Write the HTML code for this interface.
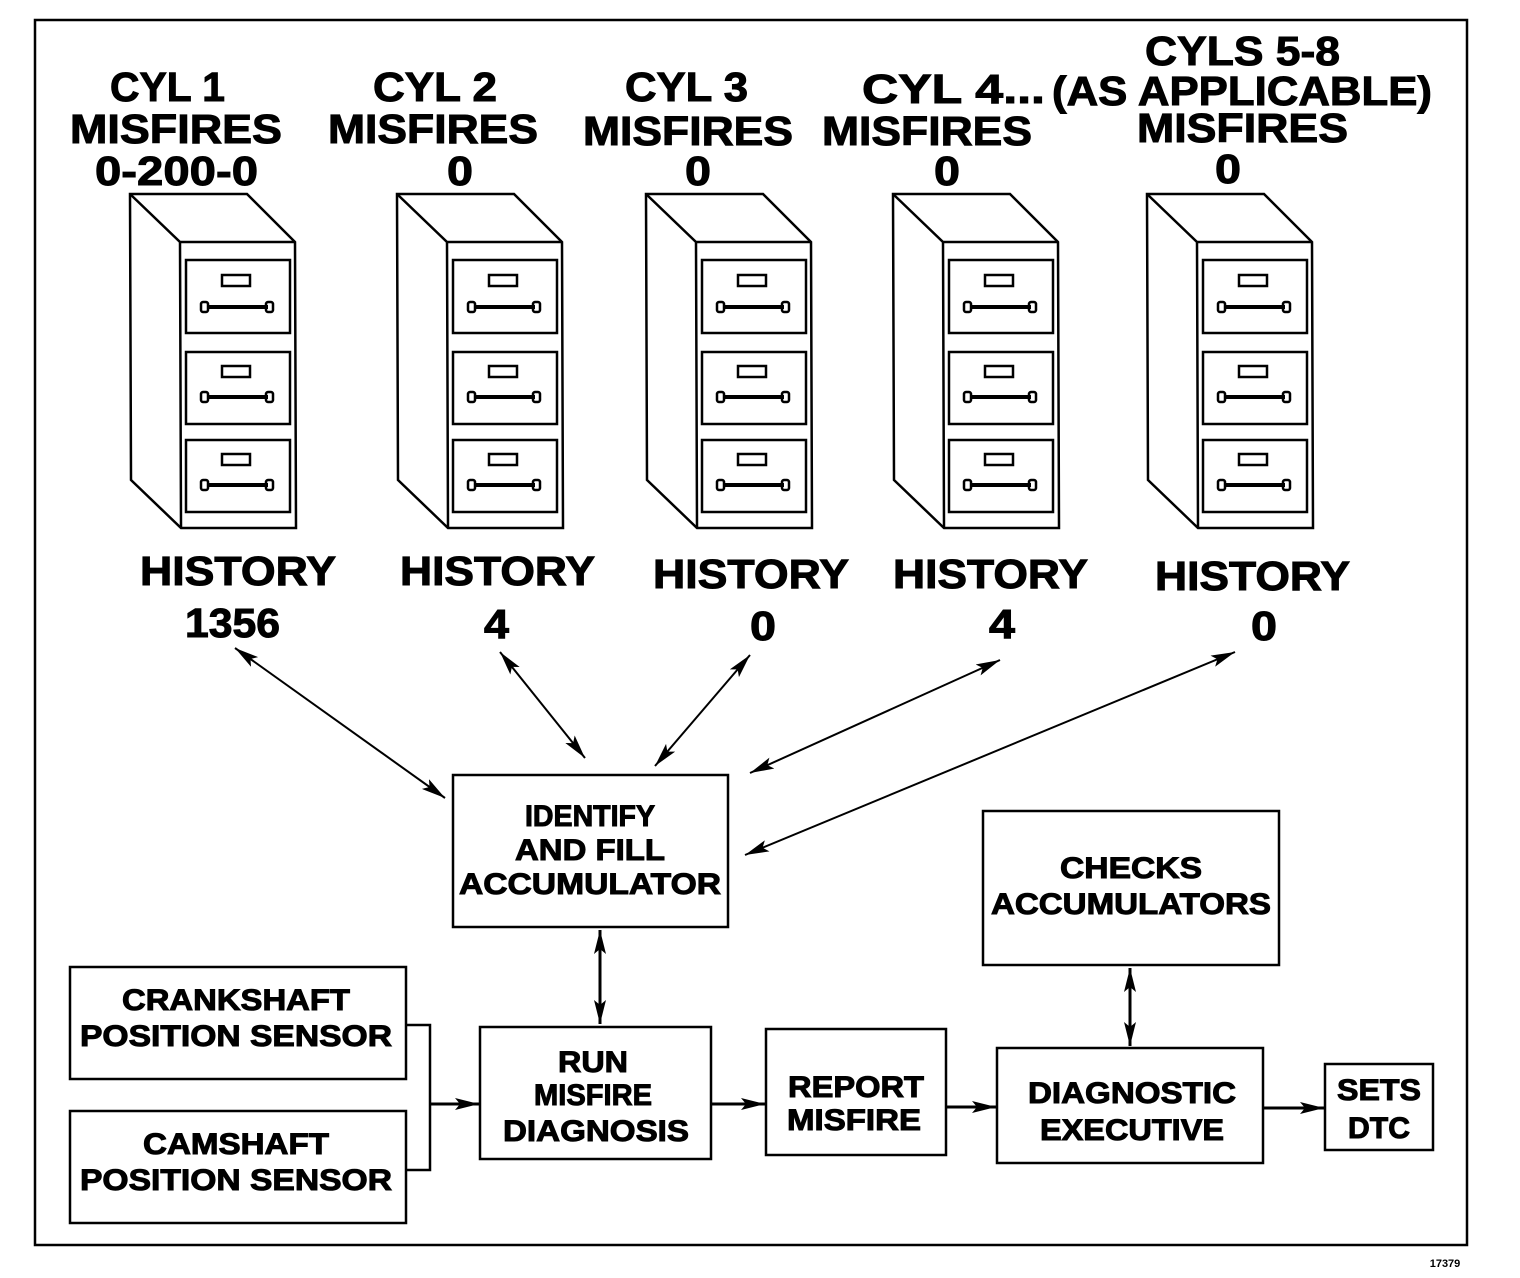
<!DOCTYPE html>
<html><head><style>body{margin:0;background:#fff}svg{display:block}text{font-family:"Liberation Sans",sans-serif;font-weight:bold;fill:#000;stroke:#000;stroke-width:1}</style></head>
<body>
<svg width="1520" height="1278" viewBox="0 0 1520 1278" xmlns="http://www.w3.org/2000/svg">
<defs>
<marker id="a" viewBox="0 0 24 12" refX="24" refY="6" markerWidth="24" markerHeight="12" markerUnits="userSpaceOnUse" orient="auto-start-reverse"><path d="M0,0 L24,6 L0,12 L5,6 Z" fill="#000"/></marker>
<g id="cab" fill="none" stroke="#000" stroke-width="2.5">
<path d="M130,194 L247,194 L295,242 L296,528 L181,528 L131,480 Z"/>
<path d="M130,194 L180,242 L295,242 M180,242 L181,528"/>
<rect x="186" y="260" width="104" height="73"/>
<rect x="186" y="352" width="104" height="72"/>
<rect x="186" y="440" width="104" height="72"/>
<rect x="222" y="275" width="28" height="11"/>
<rect x="222" y="366" width="28" height="11"/>
<rect x="222" y="454" width="28" height="11"/>
<path d="M207,307 H268 M207,397 H268 M207,485 H268" stroke-width="4"/>
<rect x="201" y="302" width="7" height="10" rx="2"/><rect x="266" y="302" width="7" height="10" rx="2"/>
<rect x="201" y="392" width="7" height="10" rx="2"/><rect x="266" y="392" width="7" height="10" rx="2"/>
<rect x="201" y="480" width="7" height="10" rx="2"/><rect x="266" y="480" width="7" height="10" rx="2"/>
</g>
</defs>
<rect x="35" y="20" width="1432" height="1225" fill="none" stroke="#000" stroke-width="2.5"/>
<use href="#cab"/>
<use href="#cab" x="267"/>
<use href="#cab" x="516"/>
<use href="#cab" x="763"/>
<use href="#cab" x="1017"/>
<g font-size="41">
<text x="110" y="101" textLength="115" lengthAdjust="spacingAndGlyphs">CYL 1</text>
<text x="70" y="143" textLength="212" lengthAdjust="spacingAndGlyphs">MISFIRES</text>
<text x="95" y="185" textLength="163" lengthAdjust="spacingAndGlyphs">0-200-0</text>
<text x="373" y="101" textLength="124" lengthAdjust="spacingAndGlyphs">CYL 2</text>
<text x="328" y="143" textLength="210" lengthAdjust="spacingAndGlyphs">MISFIRES</text>
<text x="447" y="185" textLength="26" lengthAdjust="spacingAndGlyphs">0</text>
<text x="625" y="101" textLength="123" lengthAdjust="spacingAndGlyphs">CYL 3</text>
<text x="583" y="145" textLength="210" lengthAdjust="spacingAndGlyphs">MISFIRES</text>
<text x="685" y="185" textLength="26" lengthAdjust="spacingAndGlyphs">0</text>
<text x="862" y="103" textLength="183" lengthAdjust="spacingAndGlyphs">CYL 4...</text>
<text x="1052" y="105" textLength="380" lengthAdjust="spacingAndGlyphs">(AS APPLICABLE)</text>
<text x="1145" y="65" textLength="195" lengthAdjust="spacingAndGlyphs">CYLS 5-8</text>
<text x="822" y="145" textLength="210" lengthAdjust="spacingAndGlyphs">MISFIRES</text>
<text x="1137" y="142" textLength="211" lengthAdjust="spacingAndGlyphs">MISFIRES</text>
<text x="934" y="185" textLength="26" lengthAdjust="spacingAndGlyphs">0</text>
<text x="1215" y="183" textLength="26" lengthAdjust="spacingAndGlyphs">0</text>
<text x="140" y="585" textLength="196" lengthAdjust="spacingAndGlyphs">HISTORY</text>
<text x="400" y="585" textLength="195" lengthAdjust="spacingAndGlyphs">HISTORY</text>
<text x="653" y="588" textLength="196" lengthAdjust="spacingAndGlyphs">HISTORY</text>
<text x="893" y="588" textLength="195" lengthAdjust="spacingAndGlyphs">HISTORY</text>
<text x="1155" y="590" textLength="195" lengthAdjust="spacingAndGlyphs">HISTORY</text>
<text x="185" y="637" textLength="95" lengthAdjust="spacingAndGlyphs">1356</text>
<text x="484" y="638" textLength="25" lengthAdjust="spacingAndGlyphs">4</text>
<text x="750" y="640" textLength="26" lengthAdjust="spacingAndGlyphs">0</text>
<text x="989" y="638" textLength="26" lengthAdjust="spacingAndGlyphs">4</text>
<text x="1251" y="640" textLength="26" lengthAdjust="spacingAndGlyphs">0</text>
</g>
<g stroke="#000" stroke-width="2" fill="none" marker-start="url(#a)" marker-end="url(#a)">
<line x1="235" y1="648" x2="445" y2="798"/>
<line x1="500" y1="652" x2="585" y2="758"/>
<line x1="750" y1="655" x2="655" y2="766"/>
<line x1="1000" y1="660" x2="750" y2="773"/>
<line x1="1235" y1="652" x2="745" y2="855"/>
<line x1="600" y1="930" x2="600" y2="1024" stroke-width="3"/>
<line x1="1130" y1="968" x2="1130" y2="1046" stroke-width="3"/>
</g>
<g stroke="#000" stroke-width="2.5" fill="none">
<rect x="453" y="775" width="275" height="152"/>
<rect x="983" y="811" width="296" height="154"/>
<rect x="70" y="967" width="336" height="112"/>
<rect x="70" y="1111" width="336" height="112"/>
<rect x="480" y="1027" width="231" height="132"/>
<rect x="766" y="1029" width="180" height="126"/>
<rect x="997" y="1048" width="266" height="115"/>
<rect x="1325" y="1064" width="108" height="86"/>
<path d="M406,1025 H430 V1170 H406"/>
</g>
<g stroke="#000" stroke-width="3" marker-end="url(#a)">
<line x1="430" y1="1104" x2="479" y2="1104"/>
<line x1="711" y1="1104" x2="765" y2="1104"/>
<line x1="946" y1="1107" x2="996" y2="1107"/>
<line x1="1263" y1="1108" x2="1324" y2="1108"/>
</g>
<g font-size="30" text-anchor="middle">
<text x="590" y="826" textLength="130" lengthAdjust="spacingAndGlyphs">IDENTIFY</text>
<text x="590" y="860" textLength="150" lengthAdjust="spacingAndGlyphs">AND FILL</text>
<text x="590" y="894" textLength="262" lengthAdjust="spacingAndGlyphs">ACCUMULATOR</text>
<text x="1131" y="878" textLength="142" lengthAdjust="spacingAndGlyphs">CHECKS</text>
<text x="1131" y="914" textLength="280" lengthAdjust="spacingAndGlyphs">ACCUMULATORS</text>
<text x="236" y="1010" textLength="228" lengthAdjust="spacingAndGlyphs">CRANKSHAFT</text>
<text x="236" y="1046" textLength="312" lengthAdjust="spacingAndGlyphs">POSITION SENSOR</text>
<text x="236" y="1154" textLength="186" lengthAdjust="spacingAndGlyphs">CAMSHAFT</text>
<text x="236" y="1190" textLength="312" lengthAdjust="spacingAndGlyphs">POSITION SENSOR</text>
<text x="593" y="1072" textLength="70" lengthAdjust="spacingAndGlyphs">RUN</text>
<text x="593" y="1105" textLength="118" lengthAdjust="spacingAndGlyphs">MISFIRE</text>
<text x="596" y="1141" textLength="186" lengthAdjust="spacingAndGlyphs">DIAGNOSIS</text>
<text x="856" y="1097" textLength="136" lengthAdjust="spacingAndGlyphs">REPORT</text>
<text x="854" y="1130" textLength="134" lengthAdjust="spacingAndGlyphs">MISFIRE</text>
<text x="1132" y="1103" textLength="208" lengthAdjust="spacingAndGlyphs">DIAGNOSTIC</text>
<text x="1132" y="1140" textLength="184" lengthAdjust="spacingAndGlyphs">EXECUTIVE</text>
<text x="1379" y="1100" textLength="84" lengthAdjust="spacingAndGlyphs">SETS</text>
<text x="1379" y="1138" textLength="62" lengthAdjust="spacingAndGlyphs">DTC</text>
</g>
<text x="1445" y="1267" font-size="11" text-anchor="middle" style="stroke-width:0">17379</text>
</svg>
</body></html>
